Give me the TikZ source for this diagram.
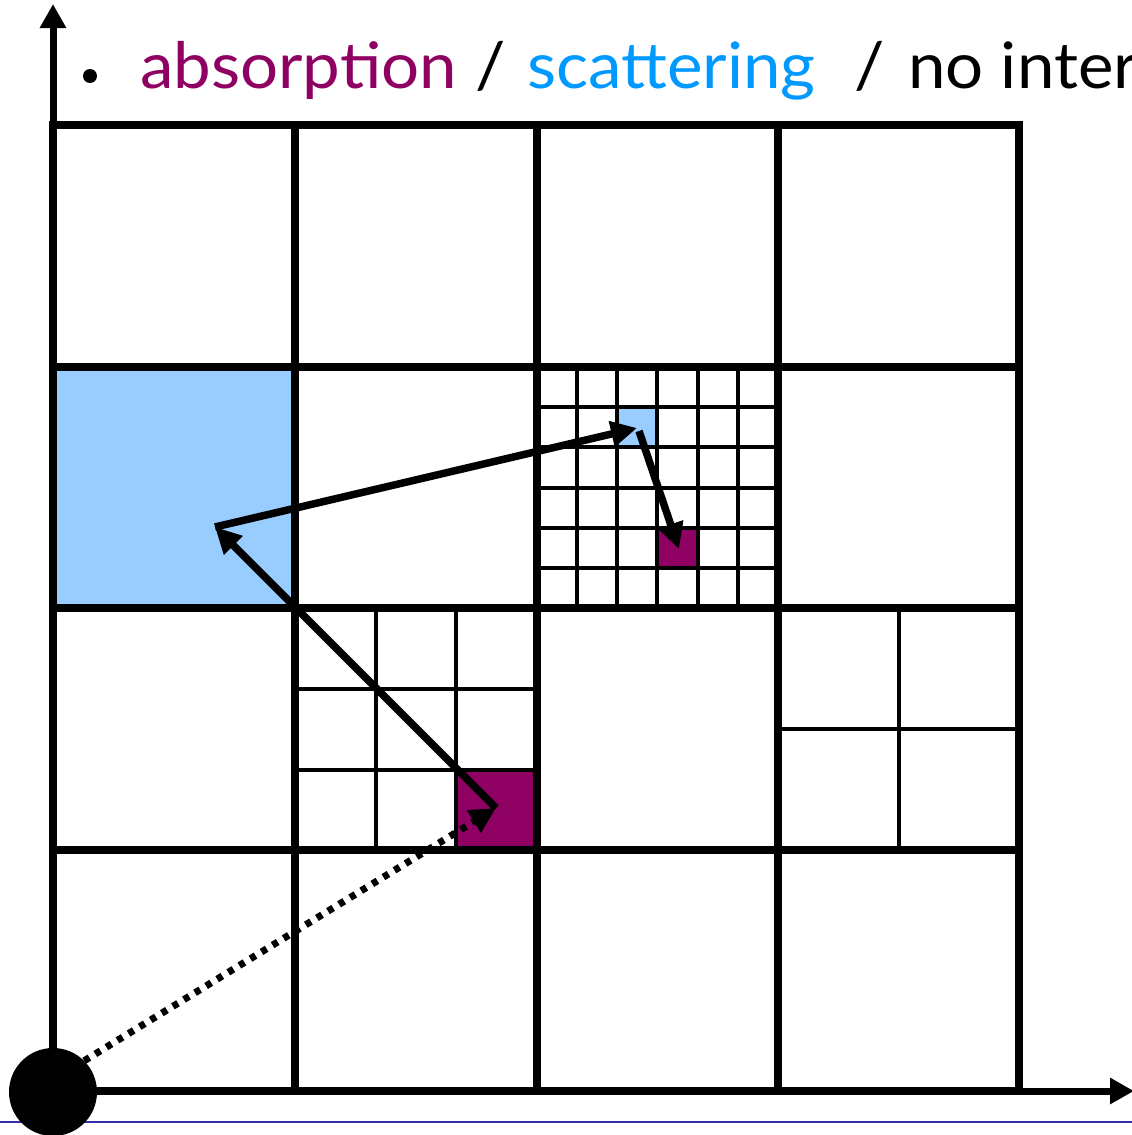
\documentclass[tikz,border=0pt]{standalone}
\usepackage{fontspec}
\setmainfont{Lato}
\newfontfamily\titlefont[FakeStretch=1.05]{Lato}
\usetikzlibrary{arrows.meta}
\definecolor{absc}{RGB}{142,0,98}
\definecolor{scatc}{RGB}{0,153,255}
\definecolor{lightb}{RGB}{153,204,255}
\definecolor{rulec}{RGB}{48,48,168}
\begin{document}
\begin{tikzpicture}[x=1pt,y=-1pt,
  maingrid/.style={line width=7.5pt},
  finegrid/.style={line width=4.5pt},
  axis/.style={line width=7pt,-{Triangle[length=24pt,width=25pt]}},
  path/.style={line width=7.5pt,-{Triangle[length=26pt,width=25pt]}},
  dotpath/.style={line width=7pt,dash pattern=on 6pt off 7pt,-{Triangle[length=26pt,width=25pt]}},
  titletext/.style={font=\titlefont\fontsize{64}{72}\selectfont,inner sep=0pt,anchor=base west}]
\useasboundingbox (0,0) rectangle (1132,1135);
\fill[white] (0,0) rectangle (1132,1135);
% fills
\fill[lightb] (53,367) rectangle (295,608);
\fill[lightb] (617,407) rectangle (657,447);
\fill[absc] (657,528) rectangle (698,568);
\fill[absc] (456,770) rectangle (537,850);
% fine grids
\draw[finegrid] (577,367) -- (577,608) (617,367) -- (617,608) (657,367) -- (657,608) (698,367) -- (698,608) (738,367) -- (738,608)
  (537,407) -- (778,407) (537,447) -- (778,447) (537,488) -- (778,488) (537,528) -- (778,528) (537,568) -- (778,568);
\draw[finegrid] (376,608) -- (376,850) (456,608) -- (456,850) (295,689) -- (537,689) (295,770) -- (537,770);
\draw[finegrid] (899,608) -- (899,850) (778,729) -- (1019,729);
% main grid
\draw[maingrid] (53,125) rectangle (1019,1091);
\draw[maingrid] (295,125) -- (295,1091) (537,125) -- (537,1091) (778,125) -- (778,1091)
  (53,367) -- (1019,367) (53,608) -- (1019,608) (53,850) -- (1019,850);
% axes
\coordinate (o) at (53,1091);
\coordinate (ytip) at (53,4);
\coordinate (xtip) at (1134,1091);
\draw[axis] (o) -- (ytip);
\draw[axis] (o) -- (xtip);
% rule line
\coordinate (r1) at (0,1122);
\coordinate (r2) at (1132,1122);
\draw[rulec,line width=2.5pt] (r1) -- (r2);
% source
\node[circle,fill=black,minimum size=88pt,inner sep=0pt] (src) at (53,1092) {};
% photon path
\coordinate (p1) at (496,808);
\coordinate (p2) at (215,527);
\coordinate (p3) at (637,428);
\coordinate (p3b) at (639,431);
\coordinate (p4) at (679,549);
\draw[dotpath] (src.45) -- (p1);
\draw[path] (p1) -- (p2);
\draw[path] (p2) -- (p3);
\draw[path] (p3b) -- (p4);
% title
\node[circle,fill=black,minimum size=14pt,inner sep=0pt] (bul) at (90,76) {};
\node[titletext,text=absc] (tabs) at (140,88) {absorption};
\node[titletext,anchor=base] (s1) at (491,88) {/};
\node[titletext,text=scatc] (tsca) at (527,88) {scattering};
\node[titletext,anchor=base] (s2) at (870,88) {/};
\node[titletext] (tno) at (908,88) {no inter};
\end{tikzpicture}
\end{document}
